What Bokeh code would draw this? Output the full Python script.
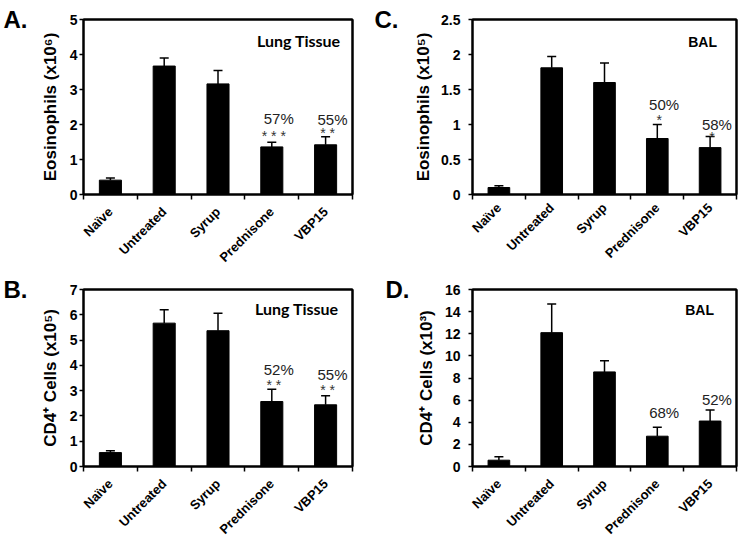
import math
from bokeh.plotting import figure
from bokeh.models import (Range1d, FixedTicker, Whisker, TeeHead, ColumnDataSource, Label,
                          LinearAxis)
from bokeh.layouts import gridplot
from bokeh.embed import file_html
from bokeh.resources import INLINE
from bokeh.core.properties import value

# ---------------- data ----------------
groups = ["Naïve", "Untreated", "Syrup", "Prednisone", "VBP15"]

a_values = [0.41, 3.67, 3.16, 1.36, 1.42]
a_errors = [0.06, 0.23, 0.38, 0.13, 0.23]
a_note_groups = ["Prednisone", "VBP15"]
a_pct = ["57%", "55%"]
a_pct_y = [2.18, 2.13]
a_stars = ["* * *", "* *"]
a_stars_y = [1.77, 1.83]

b_values = [0.55, 5.67, 5.37, 2.57, 2.44]
b_errors = [0.07, 0.53, 0.69, 0.49, 0.36]
b_note_groups = ["Prednisone", "VBP15"]
b_pct = ["52%", "55%"]
b_pct_y = [3.82, 3.63]
b_stars = ["* *", "* *"]
b_stars_y = [3.34, 3.16]

c_values = [0.10, 1.81, 1.60, 0.80, 0.67]
c_errors = [0.025, 0.16, 0.28, 0.20, 0.16]
c_note_groups = ["Prednisone", "VBP15"]
c_pct = ["50%", "58%"]
c_pct_y = [1.29, 1.0]
c_stars = ["*", "*"]
c_stars_y = [1.11, 0.86]

d_values = [0.57, 12.1, 8.55, 2.74, 4.11]
d_errors = [0.32, 2.6, 1.0, 0.81, 0.99]
d_note_groups = ["Prednisone", "VBP15"]
d_pct = ["68%", "52%"]
d_pct_y = [4.92, 6.04]
d_stars = []
d_stars_y = []

FONT = "Liberation Sans"


def panel(values, errors, ymax, ystep, ylabel, letter, site, note_groups, pct, pct_y,
          stars, stars_y, width, height, borders, tick_standoff, label_standoff,
          letter_standoff, xlabel_standoff, site_px, site_font, site_size):
    left, right, top, bottom = borders
    fw = width - left - right
    fh = height - top - bottom
    n = len(groups)

    def dx(px):
        return px / fw * n

    def dy(px):
        return px / fh * ymax

    p = figure(width=width, height=height, x_range=Range1d(0, n), y_range=Range1d(0, ymax),
               output_backend="svg", toolbar_location=None,
               min_border_left=left, min_border_right=right,
               min_border_top=top, min_border_bottom=bottom)
    p.xgrid.visible = False
    p.ygrid.visible = False
    p.outline_line_color = "black"
    p.outline_line_width = 2
    p.background_fill_color = "white"
    p.border_fill_color = "white"

    # frame top / right edges
    for place in ("above", "right"):
        ax = LinearAxis(ticker=FixedTicker(ticks=[]), major_tick_out=0, major_tick_in=0,
                        minor_tick_out=0, minor_tick_in=0, major_label_text_font_size="0px",
                        axis_line_width=2, axis_line_color="black")
        p.add_layout(ax, place)

    centers = [i + 0.5 for i in range(n)]
    idx = {g: c for g, c in zip(groups, centers)}
    src = ColumnDataSource(dict(x=centers, top=values,
                                upper=[v + e for v, e in zip(values, errors)]))
    p.add_layout(Whisker(base="x", lower="top", upper="upper", source=src,
                         line_color="black", line_width=1.5,
                         upper_head=TeeHead(size=9, line_color="black", line_width=1.5),
                         lower_head=None, level="underlay"))
    p.vbar(x="x", top="top", width=0.41, source=src, fill_color="black", line_color="black")

    # x axis
    xa = p.below[0]
    xa.ticker = FixedTicker(ticks=centers, minor_ticks=list(range(n + 1)))
    xa.major_label_overrides = {c: g for c, g in zip(centers, groups)}
    xa.major_tick_out = 0
    xa.major_tick_in = 0
    xa.minor_tick_out = 5
    xa.minor_tick_in = 0
    xa.minor_tick_line_color = "black"
    xa.minor_tick_line_width = 1.5
    xa.major_label_orientation = math.pi / 4
    xa.major_label_standoff = xlabel_standoff
    xa.axis_line_width = 2
    xa.major_label_text_font = FONT
    xa.major_label_text_font_style = "bold"
    xa.major_label_text_font_size = "13px"
    xa.major_label_text_color = "black"

    # y axis
    ya = p.left[0]
    yt = []
    k = 0
    while k * ystep <= ymax + 1e-9:
        yt.append(round(k * ystep, 6))
        k += 1
    ya.ticker = FixedTicker(ticks=yt, minor_ticks=[])
    ya.major_label_overrides = {t: f"{t:g}" for t in yt}
    ya.major_tick_out = 4
    ya.major_tick_in = 0
    ya.major_tick_line_width = 1.5
    ya.major_label_standoff = tick_standoff
    ya.axis_line_width = 2
    ya.major_label_text_font = FONT
    ya.major_label_text_font_style = "bold"
    ya.major_label_text_font_size = "14px"
    ya.major_label_text_color = "black"
    ya.axis_label = ylabel
    ya.axis_label_text_font = FONT
    ya.axis_label_text_font_style = "bold"
    ya.axis_label_text_font_size = "17px"
    ya.axis_label_text_color = "black"
    ya.axis_label_standoff = label_standoff

    # panel letter: an outer left axis whose single tick label sits at the frame top
    p.extra_y_ranges = {"letter": Range1d(0, 1)}
    la = LinearAxis(y_range_name="letter", ticker=FixedTicker(ticks=[1], minor_ticks=[]),
                    major_label_overrides={1: letter}, major_tick_out=0, major_tick_in=0,
                    minor_tick_out=0, minor_tick_in=0, axis_line_color=None,
                    major_tick_line_color=None, major_label_standoff=letter_standoff,
                    major_label_text_font=FONT, major_label_text_font_style="bold",
                    major_label_text_font_size="24px", major_label_text_color="black")
    p.add_layout(la, "left")

    # percentage notes and significance stars
    if pct:
        p.text(x=[idx[g] + dx(7) for g in note_groups], y=pct_y, text=pct,
               text_font=value(FONT), text_font_size="15px", text_color="#222222",
               text_align="center", text_baseline="middle")
    if stars:
        p.text(x=[idx[g] + dx(2) for g in note_groups], y=[s - dy(3) for s in stars_y],
               text=stars, text_font=value(FONT), text_font_size="14px",
               text_color="#333333", text_align="center", text_baseline="middle")

    # site label
    sx, sy = site_px
    p.add_layout(Label(x=n - dx(sx), y=ymax - dy(sy), text=site, text_font=site_font,
                       text_font_style="bold", text_font_size=site_size, text_color="black",
                       text_align="right", text_baseline="middle"))
    return p


pa = panel(a_values, a_errors, 5, 1, "Eosinophils (x10⁶)", "A.", "Lung Tissue",
           a_note_groups, a_pct, a_pct_y, a_stars, a_stars_y,
           371, 273, (80, 19, 19, 78), 2, 7, 10, 10, (12, 21), "Lato", "16px")
pc = panel(c_values, c_errors, 2.5, 0.5, "Eosinophils (x10⁵)", "C.", "BAL",
           c_note_groups, c_pct, c_pct_y, c_stars, c_stars_y,
           371, 273, (95, 5, 19, 74), 8, 5, 13, 6, (20, 23), FONT, "14px")
pb = panel(b_values, b_errors, 7, 1, "CD4⁺ Cells (x10⁵)", "B.", "Lung Tissue",
           b_note_groups, b_pct, b_pct_y, b_stars, b_stars_y,
           371, 273, (80, 19, 16, 78), 2, 7, 10, 10, (14, 19.5), "Lato", "16px")
pd_ = panel(d_values, d_errors, 16, 2, "CD4⁺ Cells (x10³)", "D.", "BAL",
            d_note_groups, d_pct, d_pct_y, d_stars, d_stars_y,
            371, 273, (95, 6, 14, 80), 8, 6, 4, 10, (23, 20.7), FONT, "14px")

grid = gridplot([[pa, pc], [pb, pd_]], toolbar_location=None)

open("out.html", "w").write(file_html(grid, INLINE))
